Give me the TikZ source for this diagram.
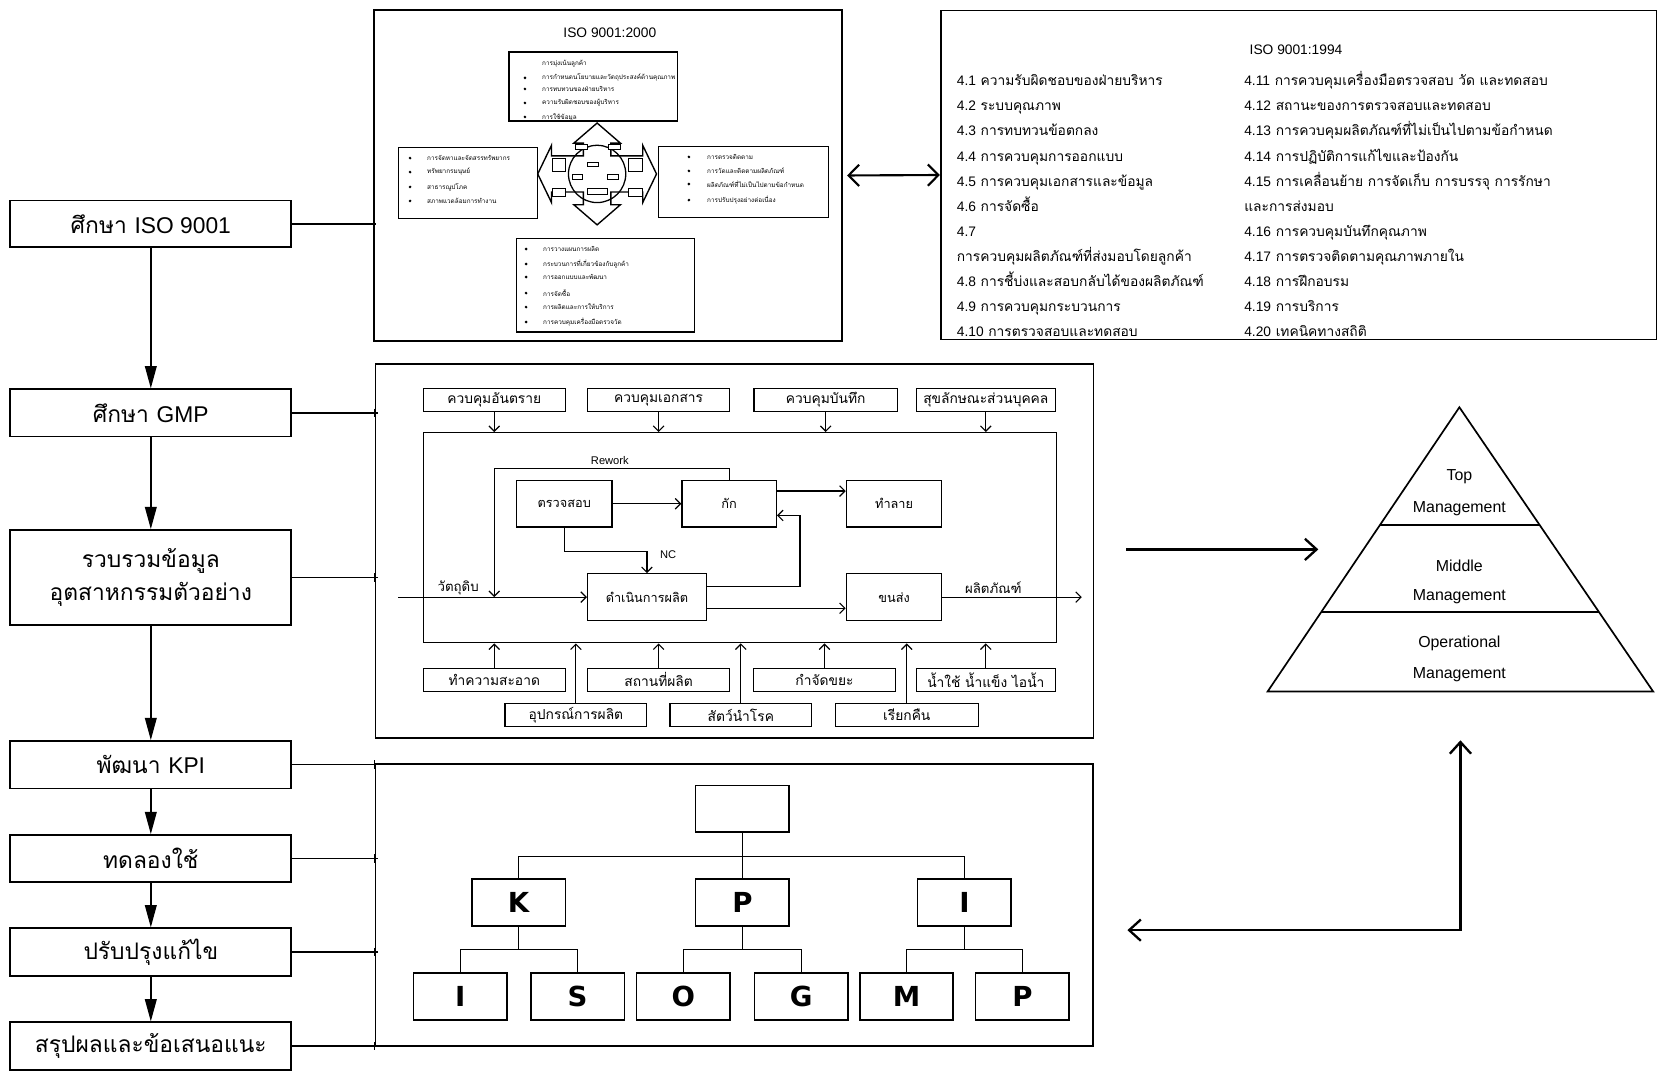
\documentclass[tikz,border=0pt]{standalone}
\usepackage{fontspec}
\setmainfont{Liberation Sans}
\newfontfamily\thai[Script=Thai]{Loma}
\newfontfamily\latn{Liberation Sans}
\newfontfamily\kfont{DejaVu Sans}
\usetikzlibrary{arrows.meta,calc}
\newcommand{\fsz}[1]{\fontsize{#1}{#1}\selectfont}
\newcommand{\ltn}[1]{{\latn #1}}
\begin{document}
\begin{tikzpicture}[x=1pt,y=-1pt,
  lbox/.style={draw,line width=1.6pt,minimum width=265pt,inner sep=0pt,font=\thai\fsz{21.5}},
  panel/.style={draw,line width=1.5pt,inner sep=0pt},
  sbox/.style={draw,line width=1.2pt,inner sep=0pt},
  gbox/.style={draw,line width=1.2pt,inner sep=0pt,minimum height=22pt,font=\thai\fsz{13}},
  ibox/.style={draw,line width=1.2pt,inner sep=0pt,minimum height=44pt,font=\thai\fsz{12}},
  kbox/.style={draw,line width=1.4pt,inner sep=0pt,minimum width=88pt,minimum height=44pt,font=\kfont\bfseries\fsz{26}},
  flow/.style={line width=1.6pt,-{Triangle[length=21pt,width=11pt]}},
  link/.style={line width=1.4pt},
  tree/.style={line width=1.3pt},
  garr/.style={line width=1.1pt,-{Straight Barb[length=5pt,width=10pt]}},
  big/.style={line width=2.2pt,-{Straight Barb[length=11pt,width=20pt]}},
  bigboth/.style={line width=2.2pt,{Straight Barb[length=11pt,width=20pt]}-{Straight Barb[length=11pt,width=20pt]}},
  lst/.style={anchor=base west,inner sep=0pt,font=\thai\fsz{13}},
  tiny/.style={anchor=west,inner sep=0pt,font=\thai\fsz{6}},
  pyr/.style={font=\latn\fsz{15},inner sep=0pt}
]
\useasboundingbox[fill=white] (0,0) rectangle (1568,1015);

% ---------------- left column ----------------
\node[lbox,minimum height=44pt] (iso) at (142.2,211) {ศึกษา \ltn{ISO 9001}};
\node[lbox,minimum height=44.7pt] (gmp) at (142.2,389.3) {ศึกษา \ltn{GMP}};
\node[lbox,minimum height=89.6pt,align=center,font=\thai\fontsize{21.5}{31}\selectfont] (col) at (142.2,544.5) {รวบรวมข้อมูล\\อุตสาหกรรมตัวอย่าง};
\node[lbox,minimum height=44.7pt] (kpi) at (142.2,721) {พัฒนา \ltn{KPI}};
\node[lbox,minimum height=44pt] (try) at (142.2,809.3) {ทดลองใช้};
\node[lbox,minimum height=45pt] (imp) at (142.2,897.7) {ปรับปรุงแก้ไข};
\node[lbox,minimum height=45pt] (sum) at (142.2,986.4) {สรุปผลและข้อเสนอแนะ};
\draw[flow] (iso) -- (gmp);
\draw[flow] (gmp) -- (col);
\draw[flow] (col) -- (kpi);
\draw[flow] (kpi) -- (try);
\draw[flow] (try) -- (imp);
\draw[flow] (imp) -- (sum);

% ---------------- panels ----------------
\node[panel,minimum width=441.3pt,minimum height=312.1pt] (isoA) at (573.25,165.45) {};
\node[panel,minimum width=675pt,minimum height=310pt] (isoB) at (1224.5,165) {};
\node[panel,minimum width=677pt,minimum height=352.9pt] (gmpP) at (692.5,519.65) {};
\node[panel,minimum width=676.6pt,minimum height=265.6pt] (kpiP) at (692.3,853.2) {};

\foreach \a/\b in {iso/isoA,gmp/gmpP,col/gmpP,kpi/kpiP,try/kpiP,imp/kpiP,sum/kpiP}{
  \coordinate (t\a) at (\a.east -| \b.west);
  \draw[link] (\a.east) -- ($(t\a)+(3,0)$);
  \draw[line width=1.2pt] ($(t\a)+(0,-4)$) -- ($(t\a)+(0,4)$);
}

\draw[line width=2pt,{Straight Barb[length=10pt,width=20pt]}-{Straight Barb[length=10pt,width=20pt]}] ([xshift=4pt]isoA.east) -- (isoB.west);

% ---------------- ISO 9001:2000 ----------------
\node[font=\latn\fsz{13}] (isoAt) at (575,31) {ISO 9001:2000};
\node[sbox,minimum width=159pt,minimum height=65pt] (m1) at (559.5,81.5) {};
\node[sbox,minimum width=131pt,minimum height=67pt] (m2) at (441.5,172.5) {};
\node[sbox,minimum width=160pt,minimum height=67pt] (m3) at (701,171.5) {};
\node[sbox,minimum width=168pt,minimum height=88pt] (m4) at (571,269) {};

\draw[line width=1.3pt,fill=white] (563,116) -- (585,135) -- (576,135) -- (576,147) -- (606,147) -- (606,137) -- (619,164) -- (606,191) -- (606,181) -- (576,181) -- (576,193) -- (585,193) -- (563,212) -- (541,193) -- (550,193) -- (550,181) -- (520,181) -- (520,191) -- (507,164) -- (520,137) -- (520,147) -- (550,147) -- (550,135) -- (541,135) -- cycle;
\draw[line width=1.2pt] (563,164) circle[radius=27];
\foreach \xa/\ya/\xb/\yb in {520.6/149.1/533.2/161.7, 592.9/149.1/605.4/161.7, 520.6/177.4/533.2/185.3, 592.9/177.4/605.4/185.3, 542.6/136.6/553.6/140.7, 574/136.6/585/140.7, 553.6/153.2/564.6/157, 539.4/164.9/548.9/169.6, 572.4/164.9/583.5/169.6, 553.6/177.4/572.4/183.7}
  \draw[line width=0.9pt,fill=white] (\xa,\ya) rectangle (\xb,\yb);

% top box items
\node[tiny] (m1a) at (511,60.3) {การมุ่งเน้นลูกค้า};
\node[tiny] (m1b) at (511,73.5) {การกำหนดนโยบายและวัตถุประสงค์ด้านคุณภาพ};
\node[tiny] (m1c) at (511,83.9) {การทบทวนของฝ่ายบริหาร};
\node[tiny] (m1d) at (511,97.1) {ความรับผิดชอบของผู้บริหาร};
\node[tiny] (m1e) at (511,110.3) {การใช้ข้อมูล};
\foreach \y in {73.5,83.9,97.1,110.3} \fill (495,\y) circle[radius=1.4];
% left box items
\node[tiny] (m2a) at (402.6,149) {การจัดหาและจัดสรรทรัพยากร};
\node[tiny] (m2b) at (402.6,162.2) {ทรัพยากรมนุษย์};
\node[tiny] (m2c) at (402.6,176.3) {สาธารณูปโภค};
\node[tiny] (m2d) at (402.6,189.5) {สภาพแวดล้อมการทำงาน};
\foreach \y in {149,162.2,176.3,189.5} \fill (386.6,\y) circle[radius=1.4];
% right box items
\node[tiny] (m3a) at (666.6,148) {การตรวจติดตาม};
\node[tiny] (m3b) at (666.6,161.2) {การวัดและติดตามผลิตภัณฑ์};
\node[tiny] (m3c) at (666.6,173.5) {ผลิตภัณฑ์ที่ไม่เป็นไปตามข้อกำหนด};
\node[tiny] (m3d) at (666.6,188.6) {การปรับปรุงอย่างต่อเนื่อง};
\foreach \y in {148,161.2,173.5,188.6} \fill (649.6,\y) circle[radius=1.4];
% bottom box items
\node[tiny] (m4a) at (512,234.8) {การวางแผนการผลิต};
\node[tiny] (m4b) at (512,248.9) {กระบวนการที่เกี่ยวข้องกับลูกค้า};
\node[tiny] (m4c) at (512,261.2) {การออกแบบและพัฒนา};
\node[tiny] (m4d) at (512,276.3) {การจัดซื้อ};
\node[tiny] (m4e) at (512,289.5) {การผลิตและการให้บริการ};
\node[tiny] (m4f) at (512,303.6) {การควบคุมเครื่องมือตรวจวัด};
\foreach \y in {234.8,248.9,261.2,276.3,289.5,303.6} \fill (496,\y) circle[radius=1.4];

% ---------------- ISO 9001:1994 ----------------
\node[font=\latn\fsz{13}] (isoBt) at (1222,47) {ISO 9001:1994};
\begin{scope}
\clip (887,10) rectangle (1562,319);
\node[lst] (l1) at (902,81) {\ltn{4.1} ความรับผิดชอบของฝ่ายบริหาร};
\node[lst] (l2) at (902,104.6) {\ltn{4.2} ระบบคุณภาพ};
\node[lst] (l3) at (902,128.2) {\ltn{4.3} การทบทวนข้อตกลง};
\node[lst] (l4) at (902,151.8) {\ltn{4.4} การควบคุมการออกแบบ};
\node[lst] (l5) at (902,175.4) {\ltn{4.5} การควบคุมเอกสารและข้อมูล};
\node[lst] (l6) at (902,199) {\ltn{4.6} การจัดซื้อ};
\node[lst] (l7) at (902,222.6) {\ltn{4.7}};
\node[lst] (l8) at (902,246.2) {การควบคุมผลิตภัณฑ์ที่ส่งมอบโดยลูกค้า};
\node[lst] (l9) at (902,269.8) {\ltn{4.8} การชี้บ่งและสอบกลับได้ของผลิตภัณฑ์};
\node[lst] (l10) at (902,293.4) {\ltn{4.9} การควบคุมกระบวนการ};
\node[lst] (l11) at (902,317) {\ltn{4.10} การตรวจสอบและทดสอบ};
\node[lst] (r1) at (1173,81) {\ltn{4.11} การควบคุมเครื่องมือตรวจสอบ วัด และทดสอบ};
\node[lst] (r2) at (1173,104.6) {\ltn{4.12} สถานะของการตรวจสอบและทดสอบ};
\node[lst] (r3) at (1173,128.2) {\ltn{4.13} การควบคุมผลิตภัณฑ์ที่ไม่เป็นไปตามข้อกำหนด};
\node[lst] (r4) at (1173,151.8) {\ltn{4.14} การปฏิบัติการแก้ไขและป้องกัน};
\node[lst] (r5) at (1173,175.4) {\ltn{4.15} การเคลื่อนย้าย การจัดเก็บ การบรรจุ การรักษา};
\node[lst] (r6) at (1173,199) {และการส่งมอบ};
\node[lst] (r7) at (1173,222.6) {\ltn{4.16} การควบคุมบันทึกคุณภาพ};
\node[lst] (r8) at (1173,246.2) {\ltn{4.17} การตรวจติดตามคุณภาพภายใน};
\node[lst] (r9) at (1173,269.8) {\ltn{4.18} การฝึกอบรม};
\node[lst] (r10) at (1173,293.4) {\ltn{4.19} การบริการ};
\node[lst] (r11) at (1173,317) {\ltn{4.20} เทคนิคทางสถิติ};
\end{scope}

% ---------------- GMP ----------------
\node[panel,line width=1.3pt,minimum width=597.2pt,minimum height=198pt] (inner) at (697.7,507) {};
\node[gbox,minimum width=134pt] (hz) at (466,377) {ควบคุมอันตราย};
\node[gbox,minimum width=134pt] (doc) at (621,377) {ควบคุมเอกสาร};
\node[gbox,minimum width=135pt] (rec) at (778.5,377) {ควบคุมบันทึก};
\node[gbox,minimum width=131pt] (hyg) at (929.5,377) {สุขลักษณะส่วนบุคคล};
\node[gbox,minimum width=134pt] (cln) at (466,641) {ทำความสะอาด};
\node[gbox,minimum width=134pt] (plc) at (621,641) {สถานที่ผลิต};
\node[gbox,minimum width=134pt] (wst) at (777.4,641) {กำจัดขยะ};
\node[gbox,minimum width=131pt] (wtr) at (929.5,641) {น้ำใช้ น้ำแข็ง ไอน้ำ};
\node[gbox,minimum width=133.6pt] (eqp) at (543,674) {อุปกรณ์การผลิต};
\node[gbox,minimum width=133.6pt] (pst) at (698.5,674) {สัตว์นำโรค};
\node[gbox,minimum width=135pt] (rcl) at (855,674) {เรียกคืน};
\foreach \b in {hz,doc,rec,hyg} \draw[garr] (\b.south) -- (\b.south |- inner.north);
\foreach \b in {cln,plc,wst,wtr,eqp,pst,rcl} \draw[garr] (\b.north) -- (\b.north |- inner.south);

\node[ibox,minimum width=90pt] (chk) at (532,475) {ตรวจสอบ};
\node[ibox,minimum width=89pt] (hold) at (687.5,475) {กัก};
\node[ibox,minimum width=90pt] (dst) at (843,475) {ทำลาย};
\node[ibox,minimum width=112pt] (prod) at (610,563) {ดำเนินการผลิต};
\node[ibox,minimum width=90pt] (ship) at (843,563) {ขนส่ง};

\coordinate (rwk) at (466,441.6);
\draw[garr] (hold.north) |- (rwk) -- (rwk |- prod.west);
\node[font=\latn\fsz{10.5}] (rwl) at (575,434) {Rework};
\coordinate (raw) at (375.6,563);
\draw[garr] (raw) -- (prod.west);
\node[font=\thai\fsz{12.5}] (rawl) at (432,554) {วัตถุดิบ};
\draw[garr] (chk.east) -- (hold.west);
\coordinate (h1) at ([yshift=12pt]hold.east);
\draw[garr] (h1) -- (h1 -| dst.west);
\draw[garr] (chk.south) -- ++(0,22) -| (prod.north);
\node[font=\latn\fsz{10.5}] (ncl) at (630,523) {NC};
\coordinate (p1) at ([yshift=10pt]prod.east);
\coordinate (lp) at (754.3,486);
\draw[garr] (p1) -| (lp) -- (lp -| hold.east);
\coordinate (p2) at ([yshift=-10.5pt]prod.east);
\draw[garr] (p2) -- (p2 -| ship.west);
\coordinate (pout) at (1020,563);
\draw[garr] (ship.east) -- (pout);
\node[font=\thai\fsz{12.5}] (outl) at (936.6,554) {ผลิตภัณฑ์};

% ---------------- KPI tree ----------------
\node[kbox] (kt) at (700,762.5) {};
\node[kbox] (kK) at (489,851) {K};
\node[kbox] (kP) at (700,851) {P};
\node[kbox] (kI) at (909.3,851) {I};
\node[kbox] (b1) at (434,939.5) {I};
\node[kbox] (b2) at (544.6,939.5) {S};
\node[kbox] (b3) at (644.3,939.5) {O};
\node[kbox] (b4) at (755.5,939.5) {G};
\node[kbox] (b5) at (854.7,939.5) {M};
\node[kbox] (b6) at (964,939.5) {P};
\coordinate (bar) at (700,807.5);
\draw[tree] (kt.south) -- (kP.north);
\draw[tree] (kK.north) |- (bar) -| (kI.north);
\coordinate (bK) at (489,895.5);
\coordinate (bP) at (700,895.5);
\coordinate (bI) at (909.3,895.5);
\draw[tree] (kK.south) -- (bK);
\draw[tree] (b1.north) |- (bK) -| (b2.north);
\draw[tree] (kP.south) -- (bP);
\draw[tree] (b3.north) |- (bP) -| (b4.north);
\draw[tree] (kI.south) -- (bI);
\draw[tree] (b5.north) |- (bI) -| (b6.north);

% ---------------- pyramid ----------------
\coordinate (apex) at (1376,384);
\coordinate (bl) at (1195.2,652);
\coordinate (br) at (1558.7,652);
\draw[line width=1.6pt,line join=miter] (apex) -- (br) -- (bl) -- cycle;
\draw[line width=1.4pt] (1301,495) -- (1451.7,495);
\draw[line width=1.4pt] (1245.6,577) -- (1507.6,577);
\node[pyr] (pt1) at (1376,449) {Top};
\node[pyr] (pt2) at (1376,480) {Management};
\node[pyr] (pm1) at (1376,533.6) {Middle};
\node[pyr] (pm2) at (1376,563) {Management};
\node[pyr] (po1) at (1376,606.5) {Operational};
\node[pyr] (po2) at (1376,636.5) {Management};

\coordinate (a1) at (1062,518);
\coordinate (a2) at (1243,518);
\draw[big] (a1) -- (a2);
\coordinate (r1) at (1063,877);
\coordinate (rc) at (1377,877);
\coordinate (r2) at (1377,698);
\draw[bigboth] (r1) -- (rc) -- (r2);
\end{tikzpicture}
\end{document}
